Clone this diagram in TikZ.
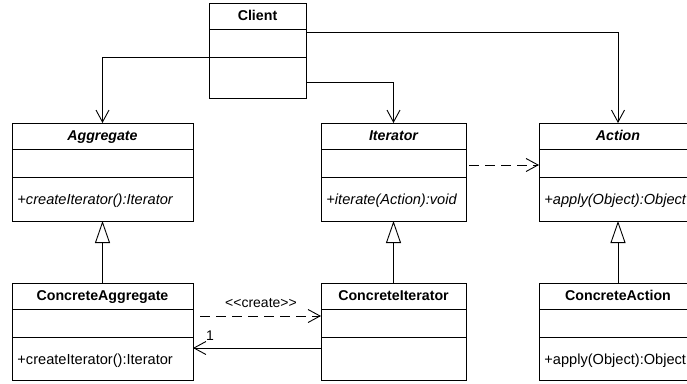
\documentclass[tikz,border=0pt]{standalone}
\usepackage{fontspec}
\setmainfont{Liberation Sans}[Ligatures=TeXOff]
\usetikzlibrary{arrows.meta}
\newcommand\umlclass[7]{%
  \node[classbox, minimum width={(#4-#2)*1pt}, minimum height={(#5-#3)*1pt}] (#1) at (#2,#3) {};
  \draw[divider] (#2,#3+26.5) -- (#4,#3+26.5);
  \draw[divider] (#2,#3+54) -- (#4,#3+54);
  \node[titletext] (#1-title) at ({(#2+#4)/2},#3+17) {#6};
  \node[methtext] (#1-meth) at (#2+5,#3+81) {#7};
}
\begin{document}
\begin{tikzpicture}[x=1pt,y=-1pt,line width=0.9pt,
  classbox/.style={draw, anchor=north west, inner sep=0pt, outer sep=0pt},
  divider/.style={line width=0.9pt},
  titletext/.style={font=\fontsize{14.2}{16}\selectfont\bfseries, inner sep=0pt, anchor=base},
  methtext/.style={font=\fontsize{14.6}{16}\selectfont, inner sep=0pt, anchor=base west},
  labeltext/.style={font=\fontsize{14}{16}\selectfont, inner sep=0pt, anchor=base},
  assoc/.style={-{Straight Barb[length=12pt,width=13pt]}},
  dep/.style={dash pattern=on 10pt off 6pt, -{Straight Barb[length=12pt,width=13pt]}},
  inherit/.style={-{Triangle[open,length=22pt,width=15pt]}}]
\useasboundingbox (0,0) rectangle (687,383);
\clip (0,0) rectangle (687,383);

\umlclass{client}{209}{3}{306}{98}{Client}{}
\umlclass{agg}{12}{123}{193}{221}{\itshape Aggregate}{\itshape +createIterator():Iterator}
\umlclass{iter}{321}{123}{466}{221}{\itshape Iterator}{\itshape +iterate(Action):void}
\umlclass{action}{539}{123}{697}{221}{\itshape Action}{\itshape +apply(Object):Object}
\umlclass{cagg}{12}{283}{193}{380}{ConcreteAggregate}{+createIterator():Iterator}
\umlclass{citer}{321}{283}{466}{380}{ConcreteIterator}{}
\umlclass{caction}{539}{283}{697}{380}{ConcreteAction}{+apply(Object):Object}

\coordinate (yA) at (0,57);
\coordinate (yI) at (0,82);
\coordinate (yC) at (0,32);
\coordinate (yD) at (0,165);
\coordinate (yCr) at (0,316);
\coordinate (yAs) at (0,348);

\draw[assoc] (client.west |- yA) -| (agg.north);
\draw[assoc] (client.east |- yI) -| (iter.north);
\draw[assoc] (client.east |- yC) -| (action.north);
\draw[dep, shorten <=3pt] (iter.east |- yD) -- (action.west |- yD);

\draw[inherit] (cagg.north) -- (agg.south);
\draw[inherit] (citer.north) -- (iter.south);
\draw[inherit] (caction.north) -- (action.south);

\draw[dep, shorten <=7pt] (cagg.east |- yCr) -- (citer.west |- yCr);
\node[labeltext] (createlbl) at (261,307) {<<create>>};
\draw[assoc] (citer.west |- yAs) -- (cagg.east |- yAs);
\node[labeltext] (one) at (210,340) {1};
\end{tikzpicture}
\end{document}
